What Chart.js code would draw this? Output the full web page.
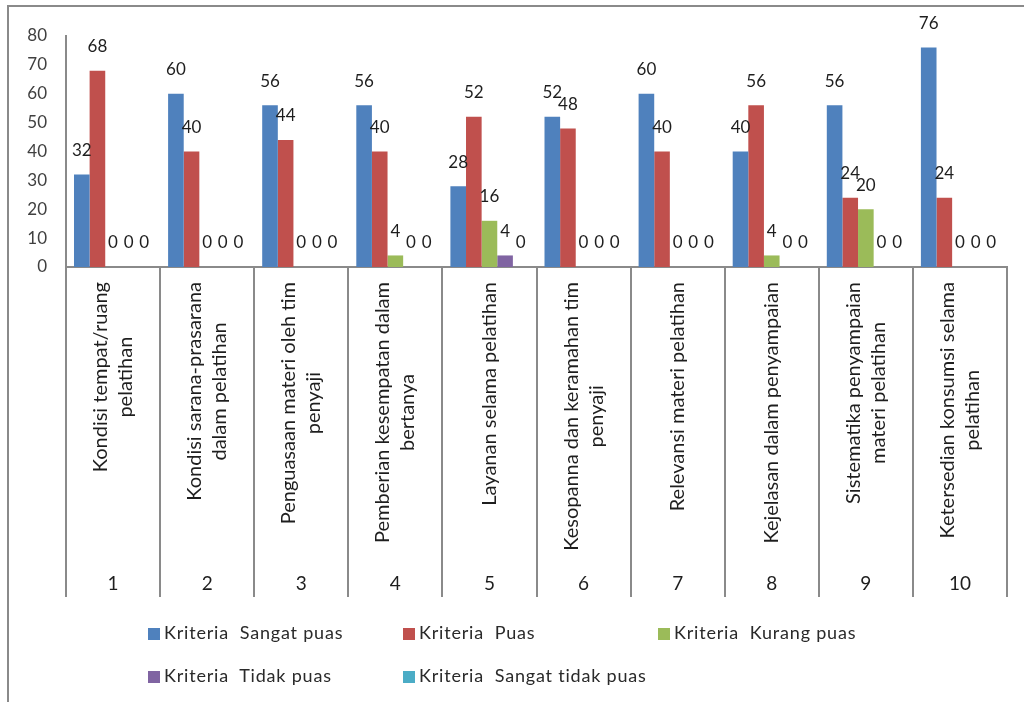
<!DOCTYPE html>
<html>
<head>
<meta charset="utf-8">
<script src="https://cdn.jsdelivr.net/npm/chart.js@4.4.1/dist/chart.umd.min.js"></script>
<style>
  html, body { margin: 0; padding: 0; background: #fff; }
  #wrap { position: relative; width: 1024px; height: 702px; overflow: hidden; }
  #frame { position: absolute; left: 7px; top: 5px; width: 1030px; height: 710px;
           border-left: 2px solid #8a8a8a; border-top: 2px solid #8a8a8a; }
  canvas { position: absolute; left: 0; top: 0; }
  .lg { position: absolute; font-family: Lato, "Liberation Sans", sans-serif; font-size: 18px;
        letter-spacing: 0.8px; color: #2a2a2a; white-space: pre; line-height: 22px; }
  .lg i { display: inline-block; width: 12px; height: 12px; margin-right: 4px; vertical-align: -1px; }
</style>
</head>
<body>
<div id="wrap">
  <div id="frame"></div>
  <canvas id="c" width="1024" height="702"></canvas>
  <div id="legend"></div>
</div>
<script>
// ---- data ----
const categoryNumbers = ["1", "2", "3", "4", "5", "6", "7", "8", "9", "10"];
const categoryLabels = [
  ["Kondisi tempat/ruang", "pelatihan"],
  ["Kondisi sarana-prasarana", "dalam pelatihan"],
  ["Penguasaan materi oleh tim", "penyaji"],
  ["Pemberian kesempatan dalam", "bertanya"],
  ["Layanan selama pelatihan"],
  ["Kesopanna dan keramahan tim", "penyaji"],
  ["Relevansi materi pelatihan"],
  ["Kejelasan dalam penyampaian"],
  ["Sistematika penyampaian", "materi pelatihan"],
  ["Ketersedian konsumsi selama", "pelatihan"]
];
const seriesNames = [
  "Kriteria  Sangat puas",
  "Kriteria  Puas",
  "Kriteria  Kurang puas",
  "Kriteria  Tidak puas",
  "Kriteria  Sangat tidak puas"
];
const sangatPuas      = [32, 60, 56, 56, 28, 52, 60, 40, 56, 76];
const puas            = [68, 40, 44, 40, 52, 48, 40, 56, 24, 24];
const kurangPuas      = [0, 0, 0, 4, 16, 0, 0, 4, 20, 0];
const tidakPuas       = [0, 0, 0, 0, 4, 0, 0, 0, 0, 0];
const sangatTidakPuas = [0, 0, 0, 0, 0, 0, 0, 0, 0, 0];
const yTicks = [0, 10, 20, 30, 40, 50, 60, 70, 80];

// ---- styles ----
const colors = ["#4F81BD", "#C0504D", "#9BBB59", "#8064A2", "#4BACC6"];
const seriesValues = [sangatPuas, puas, kurangPuas, tidakPuas, sangatTidakPuas];
const FONT = 'Lato, "Liberation Sans", sans-serif';
const AXIS = "#8a8a8a";

const valueLabels = {
  id: "valueLabels",
  afterDatasetsDraw(chart) {
    const ctx = chart.ctx;
    ctx.save();
    ctx.font = "17px " + FONT;
    ctx.fillStyle = "#1e1e1e";
    ctx.textAlign = "center";
    ctx.textBaseline = "middle";
    chart.data.datasets.forEach((ds, d) => {
      const meta = chart.getDatasetMeta(d);
      meta.data.forEach((el, i) => {
        ctx.fillText(String(ds.data[i]), el.x, el.y - 24);
      });
    });
    ctx.restore();
  }
};

const categoryText = {
  id: "categoryText",
  afterDraw(chart) {
    const ctx = chart.ctx;
    const xs = chart.scales.x;
    const top = chart.chartArea.bottom + 15;
    const lineH = 25;
    ctx.save();
    ctx.fillStyle = "#1e1e1e";
    ctx.font = "20px " + FONT;
    categoryLabels.forEach((lines, i) => {
      const cx = xs.getPixelForValue(i);
      const blockW = Math.max(...lines.map(l => ctx.measureText(l).width));
      ctx.save();
      ctx.translate(cx, top);
      ctx.rotate(-Math.PI / 2);
      ctx.textAlign = "center";
      ctx.textBaseline = "middle";
      lines.forEach((l, k) => {
        ctx.fillText(l, -blockW / 2, (k - (lines.length - 1) / 2) * lineH);
      });
      ctx.restore();
    });
    ctx.font = "19px " + FONT;
    ctx.textAlign = "center";
    ctx.textBaseline = "middle";
    categoryNumbers.forEach((n, i) => {
      ctx.fillText(n, xs.getPixelForValue(i), 584);
    });
    ctx.restore();
  }
};

new Chart(document.getElementById("c"), {
  type: "bar",
  data: {
    labels: categoryNumbers,
    datasets: seriesNames.map((name, k) => ({
      label: name,
      data: seriesValues[k],
      backgroundColor: colors[k],
      borderWidth: 0,
      categoryPercentage: 0.83,
      barPercentage: 1.0
    }))
  },
  options: {
    responsive: false,
    animation: false,
    events: [],
    layout: { padding: { top: 36, right: 17, bottom: 0, left: 0 } },
    plugins: { legend: { display: false }, tooltip: { enabled: false } },
    scales: {
      x: {
        grid: { display: true, drawOnChartArea: false, drawTicks: true, tickLength: 330,
                color: AXIS, lineWidth: 2, offset: true },
        border: { display: true, color: AXIS, width: 2 },
        ticks: { display: false },
        afterFit(s) { s.height = 702 - 267; }
      },
      y: {
        min: 0, max: 80,
        afterBuildTicks(s) { s.ticks = yTicks.map(v => ({ value: v })); },
        grid: { display: false, drawTicks: false },
        border: { display: true, color: AXIS, width: 2 },
        ticks: { padding: 19, color: "#404040", font: { family: FONT, size: 17 } },
        afterFit(s) { s.width = 66; }
      }
    }
  },
  plugins: [valueLabels, categoryText]
});

// ---- legend (HTML) ----
const legendPos = [[148, 621], [403, 621], [658, 621], [148, 664], [403, 664]];
const lg = document.getElementById("legend");
seriesNames.forEach((name, k) => {
  const d = document.createElement("div");
  d.className = "lg";
  d.style.left = legendPos[k][0] + "px";
  d.style.top = legendPos[k][1] + "px";
  d.innerHTML = '<i style="background:' + colors[k] + '"></i>' + name;
  lg.appendChild(d);
});
</script>
</body>
</html>
